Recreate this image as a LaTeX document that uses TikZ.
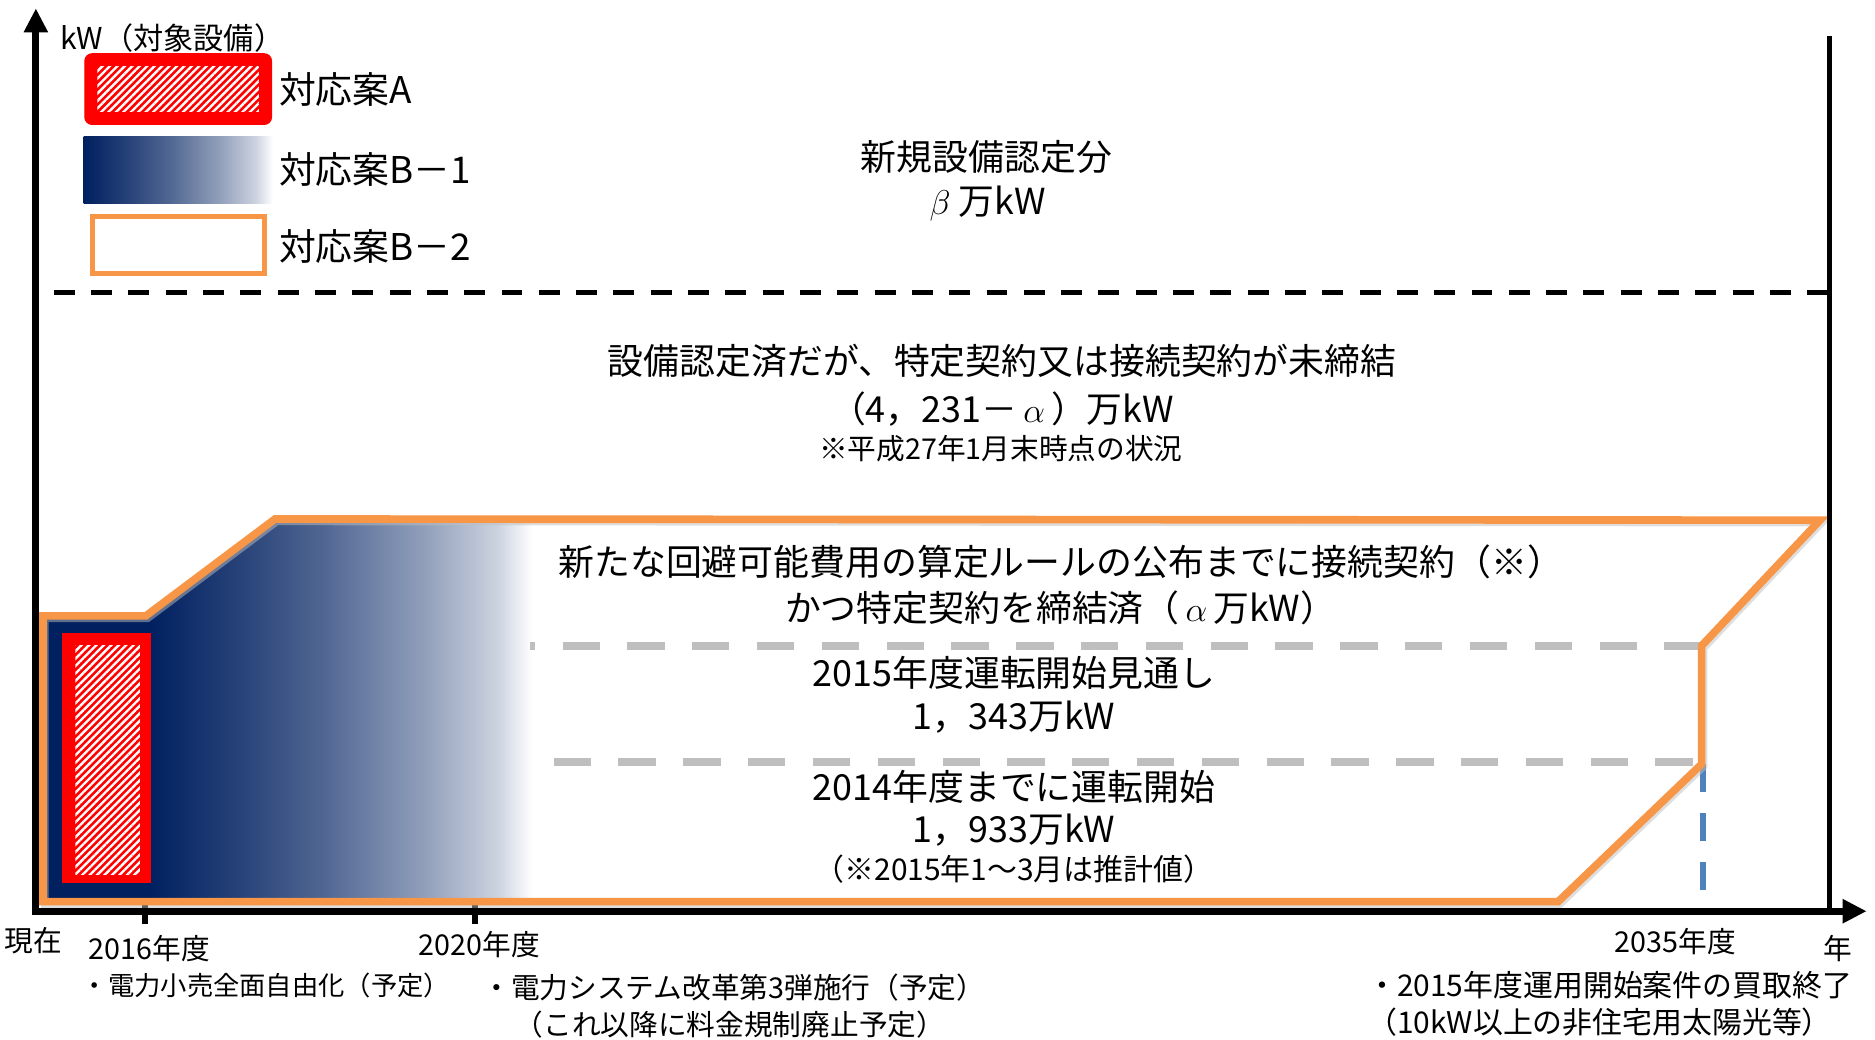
\documentclass[tikz,border=0pt]{standalone}
\usepackage{fontspec}
\setmainfont{Noto Sans CJK JP}
\usetikzlibrary{arrows.meta,patterns.meta}
\definecolor{navyc}{HTML}{002060}
\definecolor{orangec}{HTML}{F79646}
\definecolor{grayd}{HTML}{BFBFBF}
\definecolor{blued}{HTML}{4F81BD}
\definecolor{redc}{HTML}{FF0000}
\colorlet{nvA}{navyc!85!white}
\colorlet{nvB}{navyc!68!white}
\colorlet{nvC}{navyc!44!white}
\colorlet{nvD}{navyc!20!white}
\pgfdeclarehorizontalshading{navyfade}{100bp}{color(0bp)=(navyc); color(25bp)=(navyc); color(36.5bp)=(nvA); color(48bp)=(nvB); color(60.5bp)=(nvC); color(70.5bp)=(nvD); color(75bp)=(white); color(100bp)=(white)}
\tikzset{
  bigtxt/.style={font=\fontsize{15}{18}\selectfont, inner sep=0pt},
  midtxt/.style={font=\fontsize{12.5}{15}\selectfont, inner sep=0pt},
  lbltxt/.style={font=\fontsize{12}{14}\selectfont, inner sep=0pt},
  axisline/.style={line width=3pt},
  orangeline/.style={draw=orangec, line width=3.2pt},
  graydash/.style={draw=grayd, line width=3.5pt, dash pattern=on 15.6pt off 11.5pt},
  bluedash/.style={draw=blued, line width=2.75pt, dash pattern=on 11.5pt off 9pt},
  blackdash/.style={line width=2.1pt, dash pattern=on 8.75pt off 6.85pt},
  hatch/.style={pattern={Lines[angle=45,distance=2.2pt,line width=1pt]}, pattern color=white},
  tick/.style={line width=2.4pt}
}
\begin{document}
\begin{tikzpicture}[x=0.5pt,y=-0.5pt]
\useasboundingbox[fill=white] (0,0) rectangle (1568,869);

% navy gradient region (response B-1)
\begin{scope}
  \clip (38,517) -- (122,517) -- (230,436) -- (445,436) -- (445,752) -- (38,752) -- cycle;
  \fill[navyc] (30,420) rectangle (126,760);
  \shade[shading=navyfade] (125,420) rectangle (445,760);
\end{scope}

% red hatched bar (response A)
\fill[redc] (52,529) rectangle (126,738);
\fill[hatch] (63,540) rectangle (117,731);

% ticks
\draw[tick] (121,752) -- (121,773);
\draw[tick] (397,756) -- (397,773);

% gray dashed separators
\draw[graydash] (1423,540) -- (443,540);
\draw[graydash] (463,637) -- (1423,637);

% blue dashed end marker
\draw[bluedash] (1424,639) -- (1424,746);

% orange outline (response B-2) with soft shadow
\draw[draw=black!25, line width=3.2pt, opacity=0.5, shift={(1.5,2)}]
  (36,515) -- (122,515) -- (230,434) -- (1522,435) -- (1423,540) -- (1423,639) -- (1303,754) -- (36,754) -- cycle;
\draw[orangeline]
  (36,515) -- (122,515) -- (230,434) -- (1522,435) -- (1423,540) -- (1423,639) -- (1303,754) -- (36,754) -- cycle;

% axes
\coordinate (Ytop) at (30,7);
\coordinate (Orig) at (30,762);
\coordinate (Xend) at (1561,762);
\draw[axisline, {Triangle[length=10pt,width=9.5pt]}-{Triangle[length=10pt,width=9.5pt]}] (Ytop) |- (Xend);
\coordinate (Rtop) at (1530,30);
\coordinate (Rbot) at (1530,762);
\draw[line width=2pt] (Rtop) -- (Rbot);

% black dashed line
\coordinate (Dl) at (45,245);
\coordinate (Dr) at (1530,245);
\draw[blackdash] (Dl) -- (Dr);

% legend
\draw[redc, fill=redc, rounded corners=3pt, line width=0.5pt] (71,45) rectangle (227,104);
\fill[hatch] (81.5,55.7) rectangle (216.5,93.4);
\shade[shading=navyfade] (70,114) rectangle (228,170);
\draw[orangec, line width=2.1pt, fill=white] (77,181) rectangle (221,229);
\node[lbltxt, anchor=west, font=\fontsize{12.6}{15}\selectfont] (ylab) at (50,32) {kW（対象設備）};
\node[bigtxt, anchor=west, font=\fontsize{15.4}{18}\selectfont] (legA) at (233,75) {対応案A};
\node[bigtxt, anchor=west, font=\fontsize{15.4}{18}\selectfont] (legB1) at (233,142) {対応案B－1};
\node[bigtxt, anchor=west, font=\fontsize{15.4}{18}\selectfont] (legB2) at (233,206) {対応案B－2};

% region texts
\node[bigtxt] (new1) at (825,131) {新規設備認定分};
\node[bigtxt] (new2) at (826,170) {$\beta$ 万kW};
\node[bigtxt] (cert1) at (838,302) {設備認定済だが、特定契約又は接続契約が未締結};
\node[bigtxt] (cert2) at (838,342) {（4，231－\,$\alpha$\,）万kW};
\node[lbltxt] (cert3) at (837,375) {※平成27年1月末時点の状況};
\node[bigtxt] (con1) at (887,470) {新たな回避可能費用の算定ルールの公布までに接続契約（※）};
\node[bigtxt] (con2) at (887,508) {かつ特定契約を締結済（\,$\alpha$\,万kW）};
\node[bigtxt] (y15a) at (848,563) {2015年度運転開始見通し};
\node[bigtxt] (y15b) at (848,600) {1，343万kW};
\node[bigtxt] (y14a) at (848,658) {2014年度までに運転開始};
\node[bigtxt] (y14b) at (848,694) {1，933万kW};
\node[midtxt] (y14c) at (848,727) {（※2015年1～3月は推計値）};

% axis labels
\node[lbltxt] (now) at (28,787) {現在};
\node[lbltxt] (t2016) at (125,793) {2016年度};
\node[lbltxt, anchor=west, font=\fontsize{11}{13}\selectfont] (e2016) at (68,824) {・電力小売全面自由化（予定）};
\node[lbltxt] (t2020) at (401,790) {2020年度};
\node[lbltxt, anchor=west] (e2020a) at (403,826) {・電力システム改革第3弾施行（予定）};
\node[lbltxt, anchor=west] (e2020b) at (430,857) {（これ以降に料金規制廃止予定）};
\node[lbltxt] (t2035) at (1401,787) {2035年度};
\node[lbltxt] (year) at (1537,793) {年};
\node[midtxt, anchor=west] (e2035a) at (1143,824) {・2015年度運用開始案件の買取終了};
\node[midtxt, anchor=west] (e2035b) at (1143,855) {（10kW以上の非住宅用太陽光等）};
\end{tikzpicture}
\end{document}
